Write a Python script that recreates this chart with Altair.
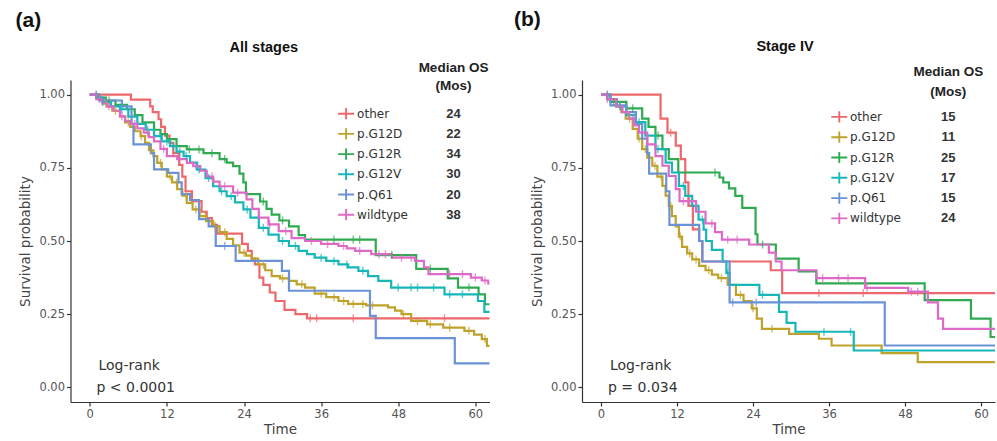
import altair as alt
import pandas as pd

GROUPS = ["other", "p.G12D", "p.G12R", "p.G12V", "p.Q61", "wildtype"]
COLORS = ["#EE686B", "#BFA22A", "#2FAA50", "#16B6B9", "#6A92D6", "#DD6AC6"]
MEDIAN_A = [24, 22, 34, 30, 20, 38]
MEDIAN_B = [15, 11, 25, 17, 15, 24]
X_TICKS = [0, 12, 24, 36, 48, 60]
Y_TICKS = [0.0, 0.25, 0.5, 0.75, 1.0]

# ---------------- Panel (a): All stages ----------------
a_other = [(0, 1.0), (6.4, 0.983), (9.4, 0.96), (9.8, 0.94), (10.7, 0.916), (11.1, 0.89), (11.7, 0.86),
           (12.4, 0.835), (13.0, 0.80), (13.9, 0.76), (14.4, 0.72), (14.9, 0.67), (15.9, 0.636), (17.4, 0.60),
           (18.2, 0.578), (19.0, 0.555), (19.8, 0.525), (23.7, 0.49), (24.6, 0.466), (25.2, 0.44), (25.7, 0.42),
           (26.4, 0.375), (27.0, 0.35), (28.0, 0.324), (28.9, 0.295), (30.3, 0.265), (32.0, 0.25), (33.8, 0.236),
           (62.5, 0.236)]
a_g12d = [(0, 1.0), (1.2, 0.985), (2.0, 0.97), (2.7, 0.96), (3.5, 0.945), (4.7, 0.926), (5.5, 0.905), (6.3, 0.89),
          (7.0, 0.875), (7.9, 0.858), (8.6, 0.835), (9.2, 0.81), (9.9, 0.79), (10.5, 0.767), (11.2, 0.745),
          (12.0, 0.72), (12.8, 0.70), (13.6, 0.677), (14.4, 0.655), (15.1, 0.63), (16.0, 0.608), (17.1, 0.585),
          (18.1, 0.568), (19.2, 0.551), (20.2, 0.53), (21.3, 0.507), (22.3, 0.485), (23.3, 0.46), (24.3, 0.45),
          (25.2, 0.44), (26.2, 0.42), (27.3, 0.40), (28.3, 0.38), (29.6, 0.372), (31.0, 0.364), (32.2, 0.352),
          (33.5, 0.341), (35.0, 0.32), (36.8, 0.308), (38.7, 0.295), (40.2, 0.285), (43.0, 0.28), (46.4, 0.273),
          (47.5, 0.262), (48.5, 0.25), (50.0, 0.227), (52.5, 0.215), (55.0, 0.204), (58.3, 0.193), (59.8, 0.18),
          (61.0, 0.165), (61.8, 0.142), (62.5, 0.142)]
a_g12r = [(0, 1.0), (1.0, 0.99), (2.5, 0.98), (4.0, 0.965), (5.8, 0.95), (7.0, 0.93), (8.2, 0.905), (10.0, 0.88),
          (11.0, 0.865), (12.0, 0.848), (13.5, 0.824), (15.1, 0.813), (17.7, 0.80), (20.2, 0.78), (21.3, 0.768),
          (22.3, 0.756), (23.3, 0.73), (23.9, 0.70), (24.3, 0.66), (26.5, 0.635), (27.5, 0.61), (28.3, 0.59),
          (29.5, 0.57), (31.0, 0.55), (32.5, 0.52), (33.5, 0.505), (44.5, 0.452), (50.8, 0.405), (55.7, 0.372),
          (57.3, 0.341), (60.5, 0.318), (61.5, 0.284), (62.5, 0.284)]
a_g12v = [(0, 1.0), (1.0, 0.99), (2.0, 0.975), (3.3, 0.96), (4.7, 0.95), (6.0, 0.925), (7.4, 0.90), (8.7, 0.88),
          (10.0, 0.858), (11.2, 0.84), (12.5, 0.824), (13.5, 0.805), (14.6, 0.79), (15.6, 0.768), (16.7, 0.744),
          (18.0, 0.715), (19.2, 0.687), (20.2, 0.67), (21.3, 0.653), (22.6, 0.632), (23.9, 0.608), (25.0, 0.58),
          (26.3, 0.545), (27.8, 0.522), (29.4, 0.50), (31.0, 0.483), (32.5, 0.466), (33.8, 0.455), (35.0, 0.443),
          (36.8, 0.432), (38.7, 0.42), (40.2, 0.41), (41.8, 0.398), (43.3, 0.38), (44.9, 0.364), (46.9, 0.341),
          (55.2, 0.318), (60.4, 0.295), (61.4, 0.258), (62.5, 0.258)]
a_q61 = [(0, 1.0), (1.5, 0.98), (5.0, 0.96), (6.5, 0.90), (6.8, 0.83), (9.5, 0.80), (10.0, 0.745), (12.2, 0.733),
         (13.8, 0.70), (14.3, 0.66), (15.6, 0.64), (17.0, 0.575), (18.5, 0.55), (19.6, 0.483), (22.7, 0.432),
         (29.9, 0.398), (31.0, 0.33), (43.6, 0.244), (44.5, 0.168), (56.8, 0.082), (62.5, 0.082)]
a_wildtype = [(0, 1.0), (1.0, 0.985), (2.0, 0.97), (2.7, 0.96), (3.7, 0.945), (4.7, 0.926), (5.5, 0.91), (6.3, 0.90),
              (7.4, 0.885), (8.4, 0.87), (9.2, 0.855), (10.0, 0.84), (11.0, 0.815), (12.0, 0.79), (13.6, 0.78),
              (15.1, 0.767), (16.1, 0.756), (17.2, 0.74), (18.2, 0.72), (19.2, 0.703), (20.2, 0.687), (22.3, 0.665),
              (24.4, 0.642), (25.3, 0.61), (26.3, 0.58), (27.8, 0.557), (29.4, 0.534), (31.4, 0.51), (33.5, 0.50),
              (36.0, 0.49), (38.7, 0.483), (40.0, 0.475), (41.3, 0.466), (43.8, 0.455), (47.0, 0.443), (50.6, 0.432),
              (52.0, 0.41), (52.7, 0.387), (59.3, 0.375), (61.0, 0.365), (62.0, 0.355), (62.5, 0.355)]

a_other_c = [1.0, 13.0, 34.3, 35.3, 41.0, 55.2]
a_g12d_c = [2.5, 4.0, 6.0, 8.0, 9.5, 11.0, 12.5, 13.5, 15.0, 16.5, 18.0, 19.5, 21.0, 24.0, 27.0, 30.0, 33.0,
            36.0, 38.0, 39.5, 41.0, 42.5, 44.0, 48.8, 51.0, 53.0, 56.0, 59.0, 61.5]
a_g12r_c = [1.5, 3.0, 15.5, 17.0, 19.0, 21.0, 27.0, 30.0, 38.0, 41.0, 42.0, 47.0, 53.0, 59.0]
a_g12v_c = [2.0, 5.0, 9.0, 11.0, 12.0, 13.0, 14.0, 15.0, 17.0, 18.5, 20.5, 22.0, 24.5, 27.0, 30.0, 32.0, 36.0,
            38.0, 40.0, 42.5, 48.0, 50.0, 51.0, 53.5, 56.0, 58.0]
a_q61_c = [1.0, 2.0, 21.0]
a_wildtype_c = [1.5, 3.0, 5.0, 7.0, 9.0, 11.5, 14.0, 16.5, 19.0, 21.0, 23.0, 28.0, 30.5, 34.5, 37.0, 39.5, 42.0,
                45.0, 46.0, 48.5, 50.0, 56.0, 58.0, 60.0, 61.5]

# ---------------- Panel (b): Stage IV ----------------
b_other = [(0, 1.0), (9.4, 0.918), (10.5, 0.87), (11.8, 0.826), (12.6, 0.78), (13.3, 0.70), (13.8, 0.62),
           (14.5, 0.54), (15.5, 0.50), (16.0, 0.43), (26.8, 0.40), (28.6, 0.322), (62.5, 0.322)]
b_g12d = [(0, 1.0), (1.0, 0.985), (2.4, 0.96), (3.2, 0.94), (3.9, 0.918), (5.0, 0.883), (5.8, 0.85), (6.5, 0.814),
          (7.3, 0.785), (8.1, 0.757), (8.9, 0.72), (9.7, 0.688), (10.2, 0.655), (10.7, 0.62), (11.2, 0.585),
          (11.8, 0.55), (12.3, 0.515), (12.8, 0.48), (13.6, 0.458), (14.4, 0.437), (15.5, 0.415), (16.5, 0.40),
          (17.5, 0.385), (18.5, 0.373), (20.0, 0.35), (21.3, 0.316), (22.5, 0.295), (23.8, 0.27), (24.6, 0.235),
          (25.4, 0.20), (29.7, 0.183), (34.4, 0.166), (36.4, 0.143), (44.3, 0.117), (50.0, 0.086), (62.5, 0.086)]
b_g12r = [(0, 1.0), (1.5, 0.975), (4.0, 0.953), (6.5, 0.918), (7.5, 0.89), (8.6, 0.86), (9.7, 0.814), (10.7, 0.78),
          (12.2, 0.734), (18.7, 0.717), (19.3, 0.70), (20.2, 0.68), (21.2, 0.654), (22.3, 0.613), (24.4, 0.523),
          (24.7, 0.488), (27.6, 0.44), (31.2, 0.396), (34.0, 0.355), (51.1, 0.298), (58.4, 0.235), (61.5, 0.172),
          (62.5, 0.172)]
b_g12v = [(0, 1.0), (1.0, 0.985), (2.5, 0.96), (4.0, 0.93), (5.5, 0.906), (7.0, 0.86), (8.6, 0.814), (10.2, 0.768),
          (11.2, 0.734), (12.3, 0.688), (13.3, 0.654), (14.4, 0.62), (15.4, 0.573), (16.2, 0.539), (16.6, 0.50),
          (17.5, 0.47), (19.2, 0.43), (19.8, 0.39), (20.3, 0.35), (25.0, 0.316), (28.1, 0.258), (29.3, 0.22),
          (30.7, 0.19), (39.9, 0.126), (62.5, 0.126)]
b_q61 = [(0, 1.0), (1.5, 0.963), (4.0, 0.94), (5.5, 0.90), (6.5, 0.85), (7.3, 0.80), (7.6, 0.73), (10.3, 0.67),
         (10.8, 0.555), (15.5, 0.50), (16.0, 0.43), (20.3, 0.29), (44.8, 0.143), (62.5, 0.143)]
b_wildtype = [(0, 1.0), (1.0, 0.985), (2.4, 0.96), (3.4, 0.94), (4.4, 0.918), (5.2, 0.895), (6.0, 0.87), (7.3, 0.83),
              (8.6, 0.79), (9.7, 0.757), (10.7, 0.722), (11.8, 0.677), (12.4, 0.636), (15.0, 0.60), (16.5, 0.56),
              (18.0, 0.53), (19.1, 0.505), (23.4, 0.488), (26.5, 0.46), (27.6, 0.43), (28.5, 0.40), (34.0, 0.373),
              (41.7, 0.34), (48.5, 0.327), (51.6, 0.29), (53.2, 0.235), (54.0, 0.20), (62.5, 0.20)]

b_other_c = [1.0, 11.0, 34.4, 41.4]
b_g12d_c = [3.0, 4.5, 6.0, 7.0, 8.5, 9.5, 11.0, 12.5, 14.0, 15.0, 17.0, 19.0, 22.0, 24.0, 27.0]
b_g12r_c = [2.0, 5.0, 9.0, 18.0, 25.5]
b_g12v_c = [3.0, 6.0, 9.0, 13.0, 16.0, 20.0, 25.5, 35.2, 39.4]
b_q61_c = [1.0, 3.0, 20.8, 24.5]
b_wildtype_c = [1.0, 5.0, 13.0, 14.0, 17.5, 20.0, 21.5, 35.0, 37.5, 39.0, 42.0, 49.0, 50.0]

A_CURVES = [a_other, a_g12d, a_g12r, a_g12v, a_q61, a_wildtype]
A_CENSOR = [a_other_c, a_g12d_c, a_g12r_c, a_g12v_c, a_q61_c, a_wildtype_c]
B_CURVES = [b_other, b_g12d, b_g12r, b_g12v, b_q61, b_wildtype]
B_CENSOR = [b_other_c, b_g12d_c, b_g12r_c, b_g12v_c, b_q61_c, b_wildtype_c]


def step_value(curve, t):
    v = curve[0][1]
    for ti, si in curve:
        if ti <= t:
            v = si
    return v


def curve_frames(curves, censors):
    rows, crows = [], []
    for g, cur, cen in zip(GROUPS, curves, censors):
        for i, (t, s) in enumerate(cur):
            rows.append({"group": g, "t": t, "s": s, "i": i})
        for c in cen:
            crows.append({"group": g, "t": c, "s": step_value(cur, c)})
    return pd.DataFrame(rows), pd.DataFrame(crows)


W_A, W_B, H = 419, 413, 322
XDOM = [-3.0, 62.2]
YDOM = [-0.05, 1.05]
TXT = "DejaVu Sans"
BOLD = "Liberation Sans"


def panel(curves, censors, medians, title, tag, ptext, width, lg):
    cdf, kdf = curve_frames(curves, censors)
    x = alt.X("t:Q", scale=alt.Scale(domain=XDOM, nice=False, zero=False),
              axis=alt.Axis(values=X_TICKS, title="Time", labelPadding=2, titlePadding=3))
    y = alt.Y("s:Q", scale=alt.Scale(domain=YDOM, nice=False, zero=False),
              axis=alt.Axis(values=Y_TICKS, format=".2f", title="Survival probability",
                            labelPadding=2, titlePadding=6))
    color = alt.Color("group:N", scale=alt.Scale(domain=GROUPS, range=COLORS), legend=None)

    lines = alt.Chart(cdf).mark_line(interpolate="step-after", strokeWidth=2.2, clip=True).encode(
        x=x, y=y, color=color, order="i:Q")
    ticks = alt.Chart(kdf).mark_tick(orient="vertical", size=8, thickness=1.4, clip=True).encode(
        x="t:Q", y="s:Q", color=color)

    ldf = pd.DataFrame({"group": GROUPS, "median": [str(m) for m in medians], "idx": list(range(6))})
    lbase = alt.Chart(ldf).transform_calculate(ly=f"{lg['y0']} + datum.idx * {lg['dy']}")
    lsym = lbase.mark_point(shape="M-1,0H1M0,-0.7V0.7", size=256, filled=False, strokeWidth=1.9, opacity=1).encode(
        x=alt.value(lg["xs"]), y=alt.Y("ly:Q", scale=None), color=color)
    llab = lbase.mark_text(align="left", baseline="middle", font=TXT, fontSize=12, color="#333").encode(
        x=alt.value(lg["xl"]), y=alt.Y("ly:Q", scale=None), text="group:N")
    lmed = lbase.mark_text(align="center", baseline="middle", font=BOLD, fontSize=13, fontWeight="bold",
                           color="#333").encode(
        x=alt.value(lg["xm"]), y=alt.Y("ly:Q", scale=None), text="median:N")

    def label(txt, xv, yv, size, weight="normal", font=TXT, align="center", col="#222"):
        return alt.Chart(pd.DataFrame({"label": [txt]})).mark_text(
            align=align, baseline="middle", font=font, fontSize=size, fontWeight=weight, color=col).encode(
            x=alt.value(xv), y=alt.value(yv), text="label:N")

    texts = [
        label(tag, lg["tagx"], lg["tagy"], 21, "bold", BOLD, "left", "#111"),
        label(title, lg["tx"], lg["ty"], 14.5, "bold", BOLD, "center", "#111"),
        label("Median OS", lg["xm"], lg["h1"], 13.5, "bold", BOLD, "center", "#222"),
        label("(Mos)", lg["xm"], lg["h2"], 13.5, "bold", BOLD, "center", "#222"),
        label("Log-rank", 28, 286, 14, "normal", TXT, "left", "#333"),
        label(ptext, 26, 307.5, 14, "normal", TXT, "left", "#333"),
    ]
    return alt.layer(lines, ticks, lsym, llab, lmed, *texts).properties(width=width, height=H)


LG_A = {"y0": 33.7, "dy": 20.2, "xs": 275.6, "xl": 286.6, "xm": 383.0, "h1": -11.6, "h2": 6.4,
        "tagx": -55, "tagy": -58.6, "tx": 193.3, "ty": -31.6}
LG_B = {"y0": 36.9, "dy": 20.3, "xs": 257.3, "xl": 268.0, "xm": 366.3, "h1": -8.0, "h2": 12.0,
        "tagx": -68, "tagy": -59.8, "tx": 203.0, "ty": -32.8}

pa = panel(A_CURVES, A_CENSOR, MEDIAN_A, "All stages", "(a)", "p < 0.0001", W_A, LG_A)
pb = panel(B_CURVES, B_CENSOR, MEDIAN_B, "Stage IV", "(b)", "p = 0.034", W_B, LG_B)

chart = alt.hconcat(pa, pb, spacing=24.5).properties(
    padding={"left": 15.5, "top": 9, "right": 0, "bottom": 0}
).configure_axis(
    domainColor="#333", tickColor="#333", labelColor="#555", titleColor="#444",
    labelFont=TXT, titleFont=TXT, labelFontSize=11.5, titleFontSize=13.5, titleFontWeight="normal",
    grid=False, tickSize=4, domainWidth=1.2, tickWidth=1.2
).configure_view(stroke=None)

chart.save("out.html", embed_options={"renderer": "svg", "actions": False})
